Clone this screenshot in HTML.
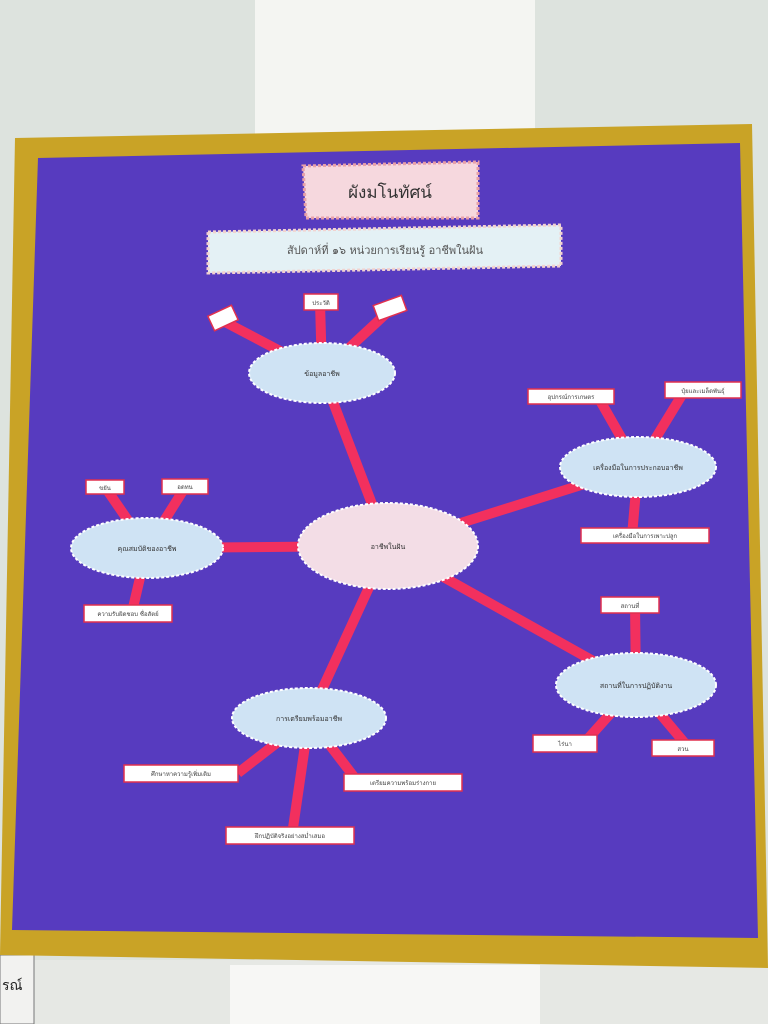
<!DOCTYPE html>
<html><head><meta charset="utf-8"><style>
html,body{margin:0;padding:0;width:768px;height:1024px;overflow:hidden;background:#dfe4df}
svg{display:block}
text{font-family:"DejaVu Sans","Liberation Sans",sans-serif}
</style></head><body>
<svg width="768" height="1024" viewBox="0 0 768 1024">
<rect x="0" y="0" width="768" height="1024" fill="#dde3de"/>
<rect x="255" y="0" width="280" height="140" fill="#f4f5f2"/>
<rect x="0" y="960" width="768" height="64" fill="#e6e8e4"/>
<rect x="230" y="965" width="310" height="59" fill="#f7f7f5"/>
<rect x="0" y="955" width="34" height="69" fill="#f2f2f0" stroke="#777" stroke-width="1"/>
<text x="2" y="990" font-size="14" fill="#222">รณ์</text>
<polygon points="15,138 752,124 768,968 0,955" fill="#c9a326"/>
<polygon points="38,158 740,143 758,938 12,930" fill="#573bbf"/>
<g stroke="#f2305e" stroke-width="10" stroke-linecap="butt">
<line x1="388" y1="546" x2="322" y2="373"/>
<line x1="388" y1="546" x2="638" y2="467"/>
<line x1="388" y1="546" x2="147" y2="548"/>
<line x1="388" y1="546" x2="636" y2="685"/>
<line x1="388" y1="546" x2="309" y2="718"/>
<line x1="322" y1="373" x2="225" y2="322"/>
<line x1="322" y1="373" x2="320" y2="302"/>
<line x1="322" y1="373" x2="390" y2="310"/>
<line x1="638" y1="467" x2="598" y2="397"/>
<line x1="638" y1="467" x2="685" y2="390"/>
<line x1="638" y1="467" x2="632" y2="536"/>
<line x1="147" y1="548" x2="105" y2="487"/>
<line x1="147" y1="548" x2="186" y2="486"/>
<line x1="147" y1="548" x2="132" y2="612"/>
<line x1="636" y1="685" x2="635" y2="605"/>
<line x1="636" y1="685" x2="585" y2="742"/>
<line x1="636" y1="685" x2="688" y2="747"/>
<line x1="309" y1="718" x2="238" y2="773"/>
<line x1="309" y1="718" x2="292" y2="835"/>
<line x1="309" y1="718" x2="358" y2="782"/>
</g>
<g stroke="#fff" stroke-width="2" stroke-dasharray="3 2">
<ellipse cx="388" cy="546" rx="90" ry="43" fill="#f3dde6"/>
<ellipse cx="322" cy="373" rx="73" ry="30" fill="#cfe3f4"/>
<ellipse cx="638" cy="467" rx="78" ry="30" fill="#cfe3f4"/>
<ellipse cx="147" cy="548" rx="76" ry="30" fill="#cfe3f4"/>
<ellipse cx="636" cy="685" rx="80" ry="32" fill="#cfe3f4"/>
<ellipse cx="309" cy="718" rx="77" ry="30" fill="#cfe3f4"/>
</g>
<g font-size="7" fill="#333" text-anchor="middle">
<text x="388" y="549">อาชีพในฝัน</text>
<text x="322" y="376">ข้อมูลอาชีพ</text>
<text x="638" y="470">เครื่องมือในการประกอบอาชีพ</text>
<text x="147" y="551">คุณสมบัติของอาชีพ</text>
<text x="636" y="688">สถานที่ในการปฏิบัติงาน</text>
<text x="309" y="721">การเตรียมพร้อมอาชีพ</text>
</g>
<g fill="#fff" stroke="#e0304f" stroke-width="1.5">
<rect x="210" y="310" width="26" height="16" transform="rotate(-25 223 318)"/>
<rect x="304" y="294" width="34" height="16"/>
<rect x="375" y="300" width="30" height="16" transform="rotate(-20 390 308)"/>
<rect x="528" y="389" width="86" height="15"/>
<rect x="665" y="382" width="76" height="16"/>
<rect x="581" y="528" width="128" height="15"/>
<rect x="86" y="480" width="38" height="14"/>
<rect x="162" y="479" width="46" height="15"/>
<rect x="84" y="605" width="88" height="17"/>
<rect x="601" y="597" width="58" height="16"/>
<rect x="533" y="735" width="64" height="17"/>
<rect x="652" y="740" width="62" height="16"/>
<rect x="124" y="765" width="114" height="17"/>
<rect x="226" y="827" width="128" height="17"/>
<rect x="344" y="774" width="118" height="17"/>
</g>
<g font-size="6" fill="#444" text-anchor="middle">
<text x="321" y="305">ประวัติ</text>
<text x="571" y="399">อุปกรณ์การเกษตร</text>
<text x="703" y="393">ปุ๋ยและเมล็ดพันธุ์</text>
<text x="645" y="538">เครื่องมือในการเพาะปลูก</text>
<text x="105" y="490">ขยัน</text>
<text x="185" y="489">อดทน</text>
<text x="128" y="616">ความรับผิดชอบ ซื่อสัตย์</text>
<text x="630" y="608">สถานที่</text>
<text x="565" y="746">ไร่นา</text>
<text x="683" y="751">สวน</text>
<text x="181" y="776">ศึกษาหาความรู้เพิ่มเติม</text>
<text x="290" y="838">ฝึกปฏิบัติจริงอย่างสม่ำเสมอ</text>
<text x="403" y="785">เตรียมความพร้อมร่างกาย</text>
</g>
<polygon points="303,166 478,162 478,218 306,218" fill="#f6d8de" stroke="#e8a0a8" stroke-width="3" stroke-dasharray="3 2"/>
<text x="390" y="198" font-size="17" fill="#333" text-anchor="middle">ผังมโนทัศน์</text>
<polygon points="208,232 561,225 561,266 208,273" fill="#e4f1f5" stroke="#f2d2cf" stroke-width="3" stroke-dasharray="3 2"/>
<text x="385" y="254" font-size="11" fill="#555" text-anchor="middle">สัปดาห์ที่ ๑๖ หน่วยการเรียนรู้ อาชีพในฝัน</text>
</svg>
</body></html>
